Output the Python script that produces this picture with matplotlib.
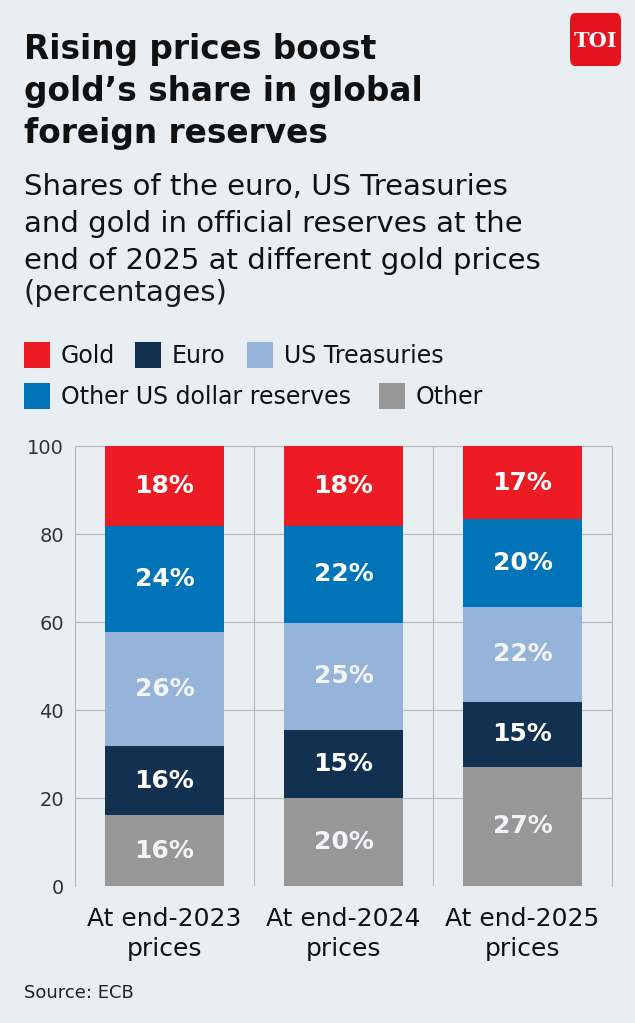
import matplotlib.pyplot as plt
from matplotlib.patches import FancyBboxPatch, Rectangle

# data (bottom to top of each bar)
categories = ["At end-2023\nprices", "At end-2024\nprices", "At end-2025\nprices"]
other = [16.1, 20.0, 27.1]
euro = [15.7, 15.5, 14.8]
us_treasuries = [26.0, 24.3, 21.6]
other_usd = [24.0, 22.0, 19.9]
gold = [18.2, 18.2, 16.6]
# printed labels
other_lbl = ["16%", "20%", "27%"]
euro_lbl = ["16%", "15%", "15%"]
ust_lbl = ["26%", "25%", "22%"]
other_usd_lbl = ["24%", "22%", "20%"]
gold_lbl = ["18%", "18%", "17%"]
yticks = [0, 20, 40, 60, 80, 100]

colors = {
    "Gold": "#ED1C24",
    "Euro": "#12304F",
    "US Treasuries": "#96B4DA",
    "Other US dollar reserves": "#0074B8",
    "Other": "#979797",
}
bg = "#E9EEF3"
grid_c = "#B4B8BD"

plt.rcParams["font.family"] = ["DejaVu Sans"]

W, H = 635, 1023
fig = plt.figure(figsize=(W / 100, H / 100), dpi=100, facecolor=bg)

def fx(px):
    return px / W

def fy(py):
    return 1 - py / H

# title + subtitle
for i, line in enumerate(["Rising prices boost", "gold\u2019s share in global", "foreign reserves"]):
    fig.text(fx(24), fy(59 + 42 * i), line, fontsize=23.6, fontweight="bold", color="#111111", va="baseline")
for i, line in enumerate(["Shares of the euro, US Treasuries",
                          "and gold in official reserves at the",
                          "end of 2025 at different gold prices"]):
    fig.text(fx(24), fy(195 + 37 * i), line, fontsize=21, color="#111111", va="baseline")
fig.text(fx(23), fy(301), "(percentages)", fontsize=21, color="#1A1A1A", va="baseline")

# TOI logo
logo = FancyBboxPatch((fx(570), fy(66)), fx(51), 53 / H, boxstyle="round,pad=0,rounding_size=0.008",
                      transform=fig.transFigure, facecolor="#E5131D", edgecolor="none")
fig.patches.append(logo)
fig.text(fx(596), fy(41), "TOI", fontsize=15, fontweight="bold", color="white",
         family="DejaVu Serif", ha="center", va="center")

# legend (drawn by hand to keep the two-row layout)
legend_items = [("Gold", 24, 355), ("Euro", 135, 355), ("US Treasuries", 247, 355),
                ("Other US dollar reserves", 24, 396), ("Other", 379, 396)]
for name, x0, yc in legend_items:
    fig.patches.append(Rectangle((fx(x0), fy(yc + 13)), fx(26), 26 / H, transform=fig.transFigure,
                                 facecolor=colors[name], edgecolor="none"))
    fig.text(fx(x0 + 37), fy(yc + 1), name, fontsize=17, color="#111111", va="center")

# chart
ax = fig.add_axes([fx(75), fy(886), fx(612 - 75), (886 - 446) / H])
ax.set_facecolor(bg)
x = range(len(categories))
stack = [("Other", other, other_lbl), ("Euro", euro, euro_lbl), ("US Treasuries", us_treasuries, ust_lbl),
         ("Other US dollar reserves", other_usd, other_usd_lbl), ("Gold", gold, gold_lbl)]
bottom = [0, 0, 0]
for name, vals, lbls in stack:
    bars = ax.bar(x, vals, bottom=bottom, width=0.66, color=colors[name], zorder=3)
    txt_c = "#F2F4F7" if name in ("Other", "US Treasuries") else "white"
    for b, v, bt, lab in zip(bars, vals, bottom, lbls):
        ax.text(b.get_x() + b.get_width() / 2, bt + v / 2, lab, ha="center", va="center",
                fontsize=18, fontweight="bold", color=txt_c, zorder=4)
    bottom = [a + v for a, v in zip(bottom, vals)]

ax.set_xlim(-0.5, 2.5)
ax.set_ylim(0, 100)
ax.set_yticks(yticks)
ax.set_yticklabels([str(t) for t in yticks], fontsize=14, color="#333333")
ax.set_xticks(list(x))
ax.set_xticklabels(categories, fontsize=18, color="#111111", linespacing=1.3)
ax.tick_params(axis="y", length=0, pad=8)
ax.tick_params(axis="x", length=0, pad=15)
for t in yticks:
    ax.axhline(t, color=grid_c, lw=0.8, zorder=1)
for xv in [0.5, 1.5]:
    ax.axvline(xv, color=grid_c, lw=0.8, zorder=1)
for s in ["top", "bottom"]:
    ax.spines[s].set_visible(False)
for s in ["left", "right"]:
    ax.spines[s].set_color(grid_c)
    ax.spines[s].set_linewidth(0.8)

fig.text(fx(24), fy(998), "Source: ECB", fontsize=13, color="#222222", va="baseline")

fig.savefig("out.png", dpi=100, facecolor=bg)
